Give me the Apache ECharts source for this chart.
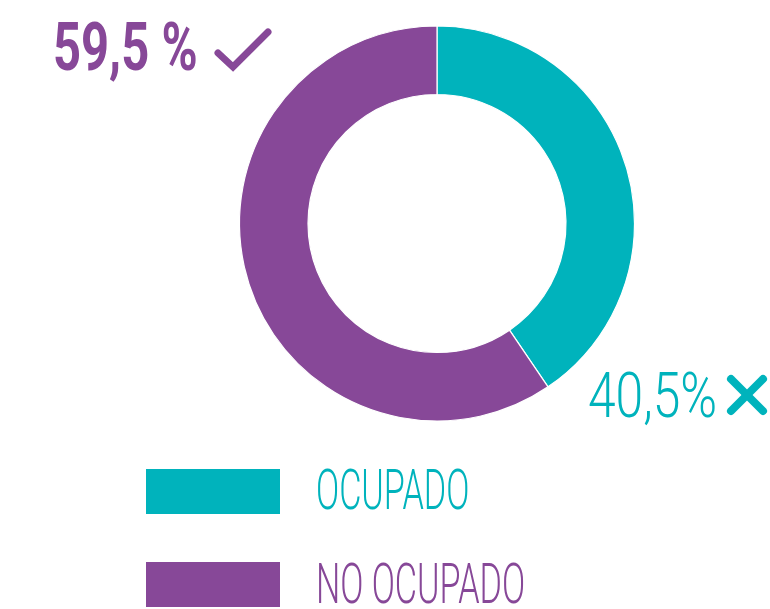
<!DOCTYPE html>
<html>
<head>
<meta charset="utf-8">
<script src="https://cdn.jsdelivr.net/npm/echarts@6/dist/echarts.min.js"></script>
<style>
  html, body { margin: 0; padding: 0; background: #fff; }
  #chart { width: 770px; height: 609px; }
</style>
</head>
<body>
<div id="chart"></div>
<script>
  // datos
  var categories = ['OCUPADO', 'NO OCUPADO']
  var values = [40.5, 59.5]
  var colors = ['#00B3BC', '#874898']

  function pct(v, sep) {
    return v.toFixed(1).replace('.', ',') + sep + '%'
  }

  var chart = echarts.init(document.getElementById('chart'))

  var option = {
    animation: false,
    color: colors,
    legend: {
      orient: 'vertical',
      left: 146,
      top: 469,
      height: 200,
      padding: 0,
      itemWidth: 134,
      itemHeight: 45,
      itemGap: 48,
      icon: 'rect',
      itemStyle: { borderWidth: 0 },
      selectedMode: false,
      formatter: function () { return '' },
      data: categories
    },
    series: [
      {
        type: 'pie',
        center: [437, 223.5],
        radius: [129, 197.5],
        startAngle: 90,
        clockwise: true,
        silent: true,
        label: { show: false },
        labelLine: { show: false },
        itemStyle: { borderColor: '#fff', borderWidth: 1.2 },
        data: categories.map(function (c, i) {
          return { name: c, value: values[i] }
        })
      }
    ],
    graphic: [
      // etiqueta 59,5 %
      {
        type: 'text', x: 53, y: 53, scaleX: 0.73, silent: true,
        style: {
          text: pct(values[1], ' '),
          font: 'bold 67px Roboto',
          fill: colors[1],
          align: 'left',
          verticalAlign: 'middle'
        }
      },
      {
        type: 'polyline', silent: true,
        shape: { points: [[218, 53], [233, 67], [268, 32]] },
        style: { stroke: colors[1], lineWidth: 7, lineCap: 'round', lineJoin: 'miter', fill: null }
      },
      // etiqueta 40,5%
      {
        type: 'text', x: 588, y: 401, scaleX: 0.79, silent: true,
        style: {
          text: pct(values[0], ''),
          font: '300 63px Roboto',
          fill: colors[0],
          align: 'left',
          verticalAlign: 'middle'
        }
      },
      {
        type: 'line', silent: true,
        shape: { x1: 731, y1: 379, x2: 763, y2: 411 },
        style: { stroke: colors[0], lineWidth: 8, lineCap: 'round' }
      },
      {
        type: 'line', silent: true,
        shape: { x1: 763, y1: 379, x2: 731, y2: 411 },
        style: { stroke: colors[0], lineWidth: 8, lineCap: 'round' }
      },
      // textos de la leyenda
      {
        type: 'text', x: 316, y: 495, scaleX: 0.61, silent: true,
        style: {
          text: categories[0],
          font: '300 56px Roboto',
          fill: colors[0],
          align: 'left',
          verticalAlign: 'middle'
        }
      },
      {
        type: 'text', x: 316, y: 589, scaleX: 0.61, silent: true,
        style: {
          text: categories[1],
          font: '300 56px Roboto',
          fill: colors[1],
          align: 'left',
          verticalAlign: 'middle'
        }
      }
    ]
  }

  chart.setOption(option)
</script>
</body>
</html>
